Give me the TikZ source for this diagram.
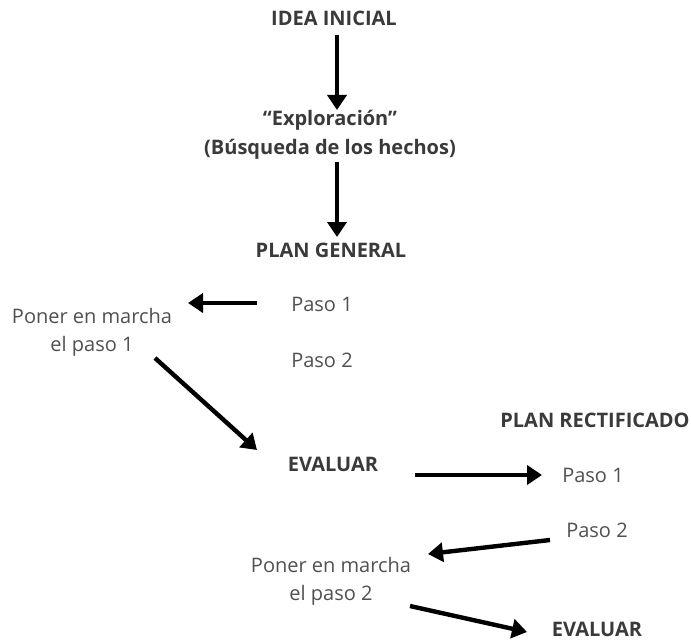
\documentclass[tikz,border=0pt]{standalone}
\usepackage{fontspec}
\setmainfont{Open Sans}
\usetikzlibrary{arrows.meta}
\definecolor{txt}{HTML}{3A3A3A}
\definecolor{txtl}{HTML}{505050}
\tikzset{
  lbl/.style={text=txtl, font=\fontsize{20}{28}\selectfont, align=center, inner sep=0pt},
  hd/.style={text=txt, font=\fontsize{20}{29}\selectfont\bfseries, align=center, inner sep=0pt},
  arr/.style={line width=4.4pt, black, -{Triangle[length=15pt,width=19pt]}}
}
\begin{document}
\begin{tikzpicture}[x=1pt,y=-1pt]
\useasboundingbox (0,0) rectangle (691,642);
\node[hd] (idea) at (334,18) {IDEA INICIAL};
\node[hd] (expl) at (330,135) {“Exploración”\\(Búsqueda de los hechos)};
\node[hd] (plan) at (331,250) {PLAN GENERAL};
\node[lbl] (p1) at (322,304) {Paso 1};
\node[lbl] (p2) at (322,360) {Paso 2};
\node[lbl] (pm1) at (92,332) {Poner en marcha\\el paso 1};
\node[hd] (ev1) at (333,464) {EVALUAR};
\node[hd] (rect) at (595,420) {PLAN RECTIFICADO};
\node[lbl] (r1) at (593,475) {Paso 1};
\node[lbl] (r2) at (597,530) {Paso 2};
\node[lbl] (pm2) at (331,581) {Poner en marcha\\el paso 2};
\node[hd] (ev2) at (597,629) {EVALUAR};

\coordinate (a1s) at (337,35);  \coordinate (a1e) at (337,110);
\coordinate (a2s) at (337,162); \coordinate (a2e) at (337,237);
\coordinate (a3s) at (257,303); \coordinate (a3e) at (188,303);
\coordinate (a4s) at (155,358); \coordinate (a4e) at (257,450);
\coordinate (a5s) at (415,475); \coordinate (a5e) at (542,475);
\coordinate (a6s) at (550,540); \coordinate (a6e) at (428,554);
\coordinate (a7s) at (410,606); \coordinate (a7e) at (527,632);

\draw[arr] (a1s) -- (a1e);
\draw[arr] (a2s) -- (a2e);
\draw[arr] (a3s) -- (a3e);
\draw[arr] (a4s) -- (a4e);
\draw[arr] (a5s) -- (a5e);
\draw[arr] (a6s) -- (a6e);
\draw[arr] (a7s) -- (a7e);
\end{tikzpicture}
\end{document}
